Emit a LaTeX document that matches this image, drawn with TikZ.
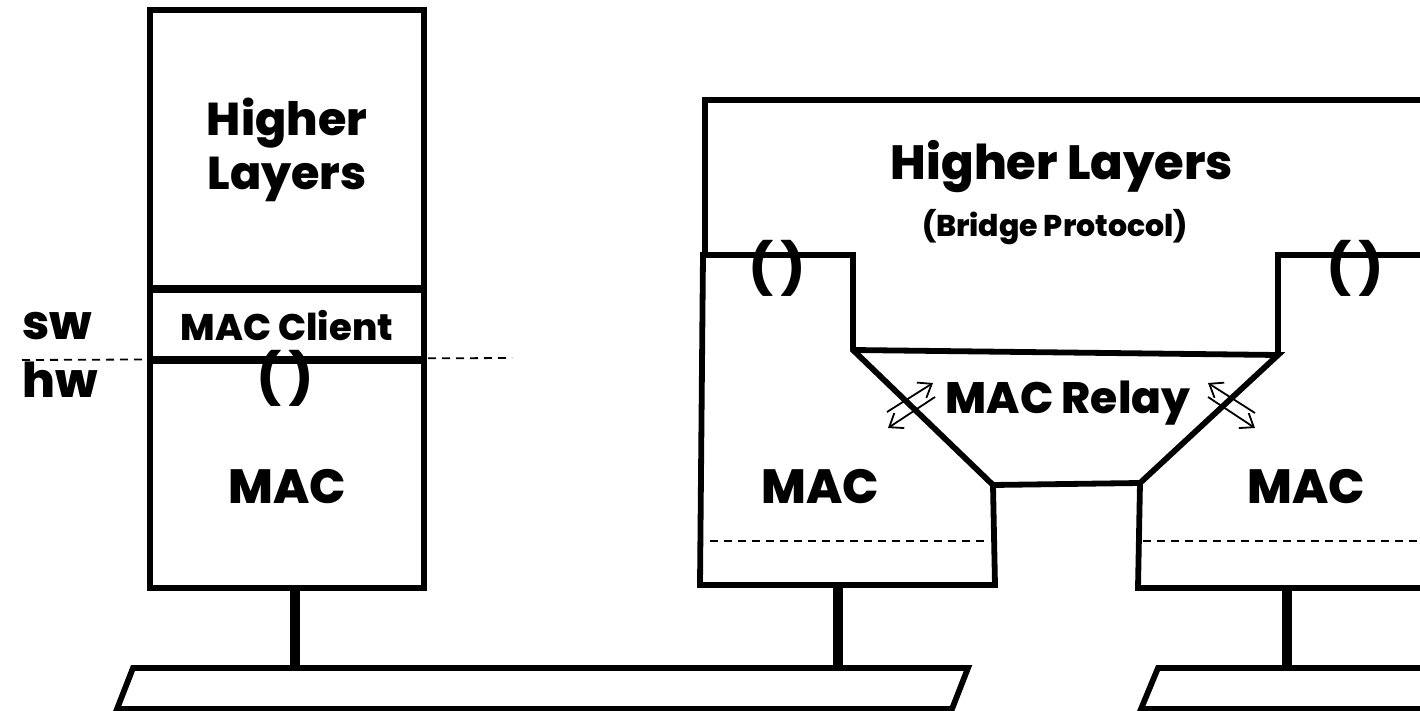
\documentclass[tikz,border=0pt]{standalone}
\usepackage{fontspec}
\setmainfont{Poppins}[BoldFont={Poppins ExtraBold}]
\usetikzlibrary{arrows.meta}
\begin{document}
\begin{tikzpicture}[x=0.5pt,y=-0.5pt,
  outline/.style={line width=2.9pt,line join=miter},
  pole/.style={line width=4.8pt},
  thindash/.style={line width=0.9pt,dash pattern=on 4pt off 3pt},
  relayarrow/.style={line width=0.9pt,-{Straight Barb[length=6pt,width=9pt]}},
  lbl/.style={font=\bfseries,inner sep=0pt,align=center},
  parens/.style={inner sep=0pt,font=\fontsize{25}{28}\selectfont}]
\useasboundingbox (0,0) rectangle (1420,711);
% ---------- left station ----------
\draw[outline] (150,10) rectangle (424,588);
\draw[line width=3.8pt] (150,289) -- (424,289);
\draw[line width=4.2pt] (150,360) -- (424,360);
\draw[thindash] (22,360) -- (512,358);
\node[lbl,font=\bfseries\fontsize{23}{27}\selectfont] (hl1) at (287,150) {Higher\\Layers};
\node[lbl,font=\bfseries\fontsize{18.5}{22}\selectfont] (mc1) at (287,326) {MAC Client};
\node[lbl,font=\bfseries\fontsize{24}{28}\selectfont] (mac1) at (287,487) {MAC};
\node[parens] (par1) at (285,378) {\textbf{(\,)}};
\node[lbl,font=\bfseries\fontsize{24}{28}\selectfont,anchor=west] (sw) at (22,326) {sw};
\node[lbl,font=\bfseries\fontsize{24}{28}\selectfont,anchor=west] (hw) at (22,380) {hw};
% ---------- bridge ----------
\draw[outline] (705,255) -- (705,100) -- (1430,100);
\draw[outline] (853,350) -- (853,255) -- (703,255) -- (700,585) -- (995,585) -- (993,485) -- cycle;
\draw[outline] (853,350) -- (1278,355) -- (1140,483) -- (993,485);
\draw[outline] (1278,355) -- (1278,255) -- (1430,255);
\draw[outline] (1140,483) -- (1138,588) -- (1430,588);
\draw[thindash] (710,541) -- (985,541);
\draw[thindash] (1143,541) -- (1420,541);
\node[lbl,font=\bfseries\fontsize{24}{28}\selectfont] (hl2) at (1062,167) {Higher Layers};
\node[lbl,font=\bfseries\fontsize{15}{18}\selectfont] (bp) at (1055,227) {(Bridge Protocol)};
\node[lbl,font=\bfseries\fontsize{22}{26}\selectfont] (relay) at (1068,403) {MAC Relay};
\node[lbl,font=\bfseries\fontsize{24}{28}\selectfont] (mac2) at (820,487) {MAC};
\node[lbl,font=\bfseries\fontsize{24}{28}\selectfont] (mac3) at (1306,487) {MAC};
\node[parens] (par2) at (777,268) {\textbf{(\,)}};
\node[parens] (par3) at (1355,268) {\textbf{(\,)}};
% relay arrows
\coordinate (a1s) at (887,412); \coordinate (a1e) at (933,383);
\coordinate (a2s) at (935,397); \coordinate (a2e) at (888,428);
\coordinate (a3s) at (1255,413); \coordinate (a3e) at (1208,383);
\coordinate (a4s) at (1208,397); \coordinate (a4e) at (1255,428);
\draw[relayarrow] (a1s) -- (a1e);
\draw[relayarrow] (a2s) -- (a2e);
\draw[relayarrow] (a3s) -- (a3e);
\draw[relayarrow] (a4s) -- (a4e);
% ---------- poles and buses ----------
\coordinate (p1t) at (295,588); \coordinate (p1b) at (295,668);
\coordinate (p2t) at (838,585); \coordinate (p2b) at (838,668);
\coordinate (p3t) at (1287,588); \coordinate (p3b) at (1287,668);
\draw[pole] (p1t) -- (p1b);
\draw[pole] (p2t) -- (p2b);
\draw[pole] (p3t) -- (p3b);
\draw[outline] (133,668) -- (968,668) -- (952,709) -- (117,709) -- cycle;
\draw[outline] (1430,668) -- (1158,668) -- (1141,709) -- (1430,709);
\end{tikzpicture}
\end{document}
